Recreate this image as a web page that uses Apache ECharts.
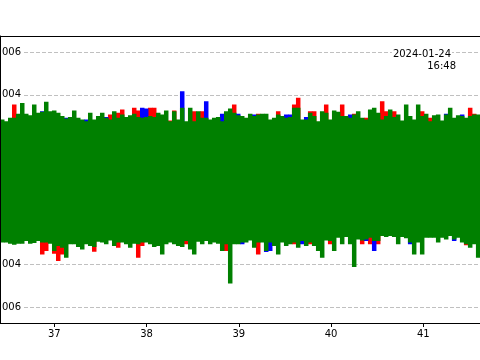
<!DOCTYPE html>
<html>
<head>
<meta charset="utf-8">
<script src="https://cdn.jsdelivr.net/npm/echarts@6/dist/echarts.min.js"></script>
<style>html,body{margin:0;padding:0;background:#fff;}#c{width:480px;height:360px;}</style>
</head>
<body>
<div id="c"></div>
<script>
// Time axis (seconds within 2024-01-24 16:48), envelope per 4-px bin
const binStart = 36.411;
const binWidth = 0.04336;
const xMin = 36.411, xMax = 41.615;
const yMin = -6.77, yMax = 6.77;   // in units of 0.001
const xTickLabels = ['37', '38', '39', '40', '41'];
const offsetLine1 = '2024-01-24';
const offsetLine2 = '16:48';

// green series envelope (upper / lower), units of 0.001
const greenHi = [
 2.84,2.76,2.92,2.92,3.11,3.62,3.11,3.04,3.54,3.15,
 3.20,3.67,3.23,3.26,3.15,3.00,2.88,2.95,3.26,2.92,
 2.84,2.76,3.15,2.84,3.00,3.15,2.92,2.84,3.23,2.92,
 3.07,2.95,3.04,3.11,2.95,2.92,2.95,3.00,2.95,3.15,
 3.07,3.26,2.76,3.23,2.84,3.39,2.76,3.39,2.76,3.23,
 2.92,2.92,2.84,2.92,2.95,2.76,3.23,3.36,3.15,3.04,
 3.00,2.92,3.11,3.00,3.07,3.11,3.11,2.84,2.92,3.07,
 3.00,2.92,2.95,3.39,3.39,2.84,2.84,3.15,3.00,2.76,
 3.23,3.15,2.84,3.26,3.20,3.00,3.00,2.92,3.07,3.23,
 2.92,2.84,3.31,3.39,3.15,2.84,3.00,3.31,2.95,3.07,
 2.79,3.54,3.00,2.84,3.54,3.00,3.11,2.76,3.04,3.07,
 2.79,3.07,3.39,2.92,3.04,3.00,2.92,3.00,3.07,3.07];
const greenLo = [
 -2.96,-2.96,-3.01,-3.06,-3.01,-3.01,-2.88,-3.01,-2.98,-2.88,
 -2.96,-2.96,-3.01,-3.36,-3.12,-3.20,-3.67,-3.04,-3.04,-3.17,
 -3.28,-3.04,-3.12,-3.17,-2.92,-2.96,-3.04,-2.86,-3.12,-2.96,
 -2.96,-3.04,-3.20,-3.01,-3.04,-2.96,-2.96,-3.04,-3.17,-3.12,
 -3.52,-3.04,-2.96,-3.04,-3.12,-3.17,-2.88,-3.28,-3.52,-2.92,
 -3.04,-2.88,-3.04,-2.96,-3.01,-3.36,-3.04,-4.89,-3.04,-3.04,
 -2.96,-2.96,-2.86,-3.20,-2.96,-2.96,-3.36,-2.96,-3.12,-3.52,
 -2.96,-3.12,-3.04,-2.96,-3.20,-2.88,-3.12,-2.96,-3.12,-3.36,
 -3.67,-2.86,-2.88,-3.36,-2.73,-3.04,-2.70,-3.04,-4.11,-2.81,
 -2.86,-2.81,-2.73,-2.88,-2.88,-2.65,-2.70,-2.65,-2.70,-3.04,
 -2.70,-2.76,-2.96,-3.52,-2.96,-3.52,-2.73,-2.73,-2.73,-2.96,
 -2.73,-2.81,-2.65,-2.81,-2.73,-2.96,-3.04,-3.20,-3.04,-3.67];

// red series envelope
const redHi = [
 2.6,2.6,2.6,3.54,2.6,2.6,2.6,2.6,2.6,2.6,
 2.6,2.6,2.6,2.6,2.6,2.6,2.6,2.6,2.6,2.6,
 2.6,2.6,2.6,2.6,2.6,2.6,2.6,3.07,2.6,3.15,
 3.31,2.6,2.6,3.39,3.26,2.6,2.6,3.39,3.39,2.6,
 2.6,2.6,2.79,3.26,2.6,2.6,2.6,2.6,3.23,2.6,
 3.23,2.6,2.6,2.6,2.6,2.6,2.6,2.6,3.54,2.6,
 2.6,2.6,2.6,2.6,3.11,2.6,2.6,2.6,2.6,3.23,
 2.6,2.6,2.6,3.54,3.86,2.6,2.6,3.23,3.23,2.6,
 2.6,3.54,2.6,2.6,2.6,3.54,2.6,2.6,3.11,2.6,
 2.6,2.92,2.6,2.6,2.6,3.70,3.23,2.6,3.23,2.6,
 2.6,2.6,2.6,2.6,2.6,3.23,2.6,2.92,2.6,2.6,
 2.6,2.6,2.6,2.6,2.6,2.6,2.6,3.39,3.11,2.6];
const redLo = [
 -2.5,-2.5,-2.5,-2.5,-2.5,-2.5,-2.5,-2.5,-2.5,-2.5,
 -3.52,-3.36,-2.5,-3.48,-3.83,-3.52,-2.5,-2.5,-2.5,-2.5,
 -2.5,-2.5,-2.5,-3.39,-2.5,-2.5,-2.5,-2.5,-2.5,-3.20,
 -2.5,-2.5,-2.5,-2.5,-3.67,-3.12,-2.5,-2.5,-2.5,-2.5,
 -2.5,-2.5,-2.5,-2.5,-2.5,-2.5,-3.04,-2.5,-2.5,-2.5,
 -2.5,-2.5,-2.5,-2.5,-2.5,-2.5,-3.36,-2.5,-2.5,-2.5,
 -2.5,-2.5,-2.5,-2.5,-3.52,-2.5,-2.5,-2.5,-2.5,-2.5,
 -2.5,-2.5,-2.5,-3.04,-2.5,-2.5,-2.5,-3.04,-2.5,-2.5,
 -2.5,-2.5,-3.04,-2.5,-2.5,-2.5,-2.5,-2.5,-2.5,-2.5,
 -3.04,-2.5,-3.04,-2.5,-3.04,-2.5,-2.5,-2.5,-2.5,-2.5,
 -2.5,-2.5,-2.5,-2.5,-2.5,-2.5,-2.5,-2.5,-2.5,-2.5,
 -2.5,-2.5,-2.5,-2.5,-2.5,-2.5,-3.08,-2.5,-2.5,-2.5];

// blue series envelope
const blueHi = [
 2.6,2.6,2.6,2.6,2.6,2.6,2.6,2.6,2.6,2.6,
 3.23,2.6,2.6,2.6,2.6,2.6,2.92,2.6,2.6,2.6,
 2.6,2.84,2.6,2.6,2.6,2.6,2.95,2.6,2.6,2.6,
 2.6,2.6,2.6,2.6,2.6,3.39,3.36,2.6,2.6,2.6,
 2.6,2.6,2.6,2.6,2.6,4.17,2.6,2.6,2.6,2.6,
 2.6,3.70,2.6,2.6,2.6,3.11,2.6,2.6,2.6,3.11,
 2.6,2.6,2.6,3.07,2.6,2.6,2.6,2.6,2.6,2.6,
 2.6,3.07,3.07,2.6,2.6,2.6,2.95,2.6,2.6,2.6,
 2.6,2.6,2.6,2.6,2.6,2.6,2.6,3.07,2.6,2.6,
 2.6,2.6,2.6,2.6,2.6,2.6,2.6,2.6,2.6,2.6,
 2.6,2.6,2.6,2.6,2.6,2.6,2.6,2.6,2.6,2.6,
 2.6,3.11,2.6,2.6,2.6,3.07,2.6,2.6,2.6,2.6];
const blueLo = [
 -2.5,-2.5,-2.5,-2.5,-2.5,-2.5,-2.5,-2.5,-2.5,-2.5,
 -2.5,-2.5,-2.5,-2.5,-2.5,-2.5,-2.5,-2.5,-2.5,-2.5,
 -2.5,-2.5,-2.5,-2.5,-2.5,-2.5,-2.5,-2.5,-2.5,-2.5,
 -2.5,-2.5,-2.5,-2.5,-2.5,-2.5,-2.5,-2.5,-2.5,-2.5,
 -2.5,-2.5,-2.5,-2.5,-2.5,-2.5,-2.5,-2.5,-2.5,-2.5,
 -2.5,-2.5,-2.5,-2.5,-2.5,-2.5,-2.5,-2.5,-2.5,-2.5,
 -3.04,-2.5,-2.5,-2.5,-2.5,-2.5,-3.40,-3.36,-2.5,-2.5,
 -2.5,-2.5,-2.5,-2.5,-2.5,-3.04,-2.5,-2.5,-2.5,-2.5,
 -2.5,-2.5,-2.5,-2.5,-2.5,-2.5,-2.5,-2.5,-2.5,-2.5,
 -2.5,-2.88,-2.5,-3.36,-2.5,-2.5,-2.5,-2.5,-2.5,-2.5,
 -2.5,-2.5,-3.04,-2.5,-2.5,-2.5,-2.5,-2.5,-2.5,-2.5,
 -2.5,-2.5,-2.5,-2.88,-2.5,-2.5,-2.5,-2.5,-2.5,-2.5];

function bins(hi, lo) {
  return hi.map((h, i) => [binStart + i * binWidth, binStart + (i + 1) * binWidth, h, lo[i]]);
}
function bandSeries(name, color, hi, lo) {
  return {
    name: name, type: 'custom', xAxisIndex: 0, yAxisIndex: 0, clip: true, z: 20,
    encode: { x: [0, 1], y: [2, 3] },
    data: bins(hi, lo),
    renderItem: function (params, api) {
      const p0 = api.coord([api.value(0), api.value(2)]);
      const p1 = api.coord([api.value(1), api.value(3)]);
      return { type: 'rect', shape: { x: p0[0], y: p0[1], width: p1[0] - p0[0] + 0.5, height: p1[1] - p0[1] },
               style: { fill: color } };
    }
  };
}
const FONT = 'DejaVu Sans';
const chart = echarts.init(document.getElementById('c'), null, { renderer: 'canvas' });
chart.setOption({
  animation: false,
  backgroundColor: '#fff',
  grid: { left: 0, right: 0, top: 36, bottom: 36.5, containLabel: false, outerBoundsMode: 'none' },
  xAxis: [{
    type: 'value', min: xMin, max: xMax, position: 'bottom', z: 30,
    axisLine: { show: true, onZero: false, lineStyle: { color: '#000', width: 1 } },
    axisTick: { show: true, length: 3.5, lineStyle: { color: '#000', width: 1 } },
    axisLabel: { fontSize: 10, fontFamily: FONT, color: '#000', margin: 6, showMinLabel: false, showMaxLabel: false,
      formatter: function (v) { const s = String(Math.round(v)); return (Math.abs(v - Math.round(v)) < 1e-6 && xTickLabels.indexOf(s) >= 0) ? s : ''; } },
    splitLine: { show: false }
  }, {
    type: 'value', min: xMin, max: xMax, position: 'top', z: 30,
    axisLine: { show: true, onZero: false, lineStyle: { color: '#000', width: 1 } },
    axisTick: { show: false }, axisLabel: { show: false }, splitLine: { show: false }
  }],
  yAxis: [{
    type: 'value', min: yMin, max: yMax, splitNumber: 7, z: 0,
    axisLine: { show: false }, axisTick: { show: false },
    axisLabel: { margin: -22, fontSize: 10, fontFamily: FONT, color: '#000', backgroundColor: '#fff', padding: [1, 1, 1, 0],
      showMinLabel: false, showMaxLabel: false,
      formatter: function (v) {
        if (Math.abs(v) > 6.5) return '';
        const s = (Math.abs(v) / 1000).toFixed(3);
        return v < -1e-9 ? '\u2212' + s : s;
      } },
    splitLine: { show: true, lineStyle: { color: '#b0b0b0', type: [4, 2], width: 0.8 } }
  }, {
    type: 'value', min: yMin, max: yMax, position: 'left', z: 30,
    axisLine: { show: true, onZero: false, lineStyle: { color: '#000', width: 1 } },
    axisTick: { show: false }, axisLabel: { show: false }, splitLine: { show: false }
  }],
  graphic: [
    { type: 'text', x: 452, y: 54.5, z: 100,
      style: { text: offsetLine1, font: '10px ' + FONT, fill: '#000', align: 'right', verticalAlign: 'middle', backgroundColor: '#fff', padding: [0, 1, 0, 1] } },
    { type: 'text', x: 456, y: 66, z: 100,
      style: { text: offsetLine2, font: '10px ' + FONT, fill: '#000', align: 'right', verticalAlign: 'middle' } }
  ],
  series: [
    bandSeries('red', '#ff0000', redHi, redLo),
    bandSeries('blue', '#0000ff', blueHi, blueLo),
    bandSeries('green', '#008000', greenHi, greenLo)
  ]
});
</script>
</body>
</html>
